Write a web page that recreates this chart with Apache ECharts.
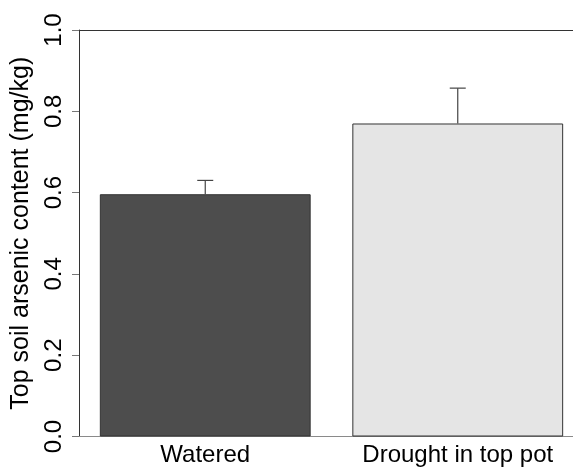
<!DOCTYPE html>
<html>
<head>
<meta charset="utf-8">
<script src="https://cdn.jsdelivr.net/npm/echarts@6/dist/echarts.min.js"></script>
<style>html,body{margin:0;padding:0;background:#fff;overflow:hidden}#c{width:584px;height:468px}</style>
</head>
<body>
<div id="c"></div>
<script>
var categories = ['Watered', 'Drought in top pot'];
var means = [0.596, 0.770];
var errUpper = [0.630, 0.857];
var barColors = ['#4d4d4d', '#e5e5e5'];
var yTicks = [0, 0.2, 0.4, 0.6, 0.8, 1.0];

var FONT = '"Liberation Sans", Arial, sans-serif';
var chart = echarts.init(document.getElementById('c'), null, {renderer: 'canvas'});
chart.setOption({
  animation: false,
  backgroundColor: '#fff',
  grid: {left: 79, top: 30, right: 0, bottom: 31.5, containLabel: false},
  xAxis: [{
    type: 'category',
    data: categories,
    axisLine: {show: true, lineStyle: {color: '#8a8a8a', width: 1}},
    axisTick: {show: false},
    axisLabel: {color: '#000', fontFamily: FONT, fontSize: 24, margin: 7, interval: 0, hideOverlap: false}
  }, {
    type: 'category',
    position: 'top',
    data: categories,
    axisLine: {show: true, lineStyle: {color: '#333', width: 1}},
    axisTick: {show: false},
    axisLabel: {show: false}
  }],
  yAxis: {
    type: 'value',
    min: yTicks[0],
    max: yTicks[yTicks.length - 1],
    interval: 0.2,
    splitLine: {show: false},
    axisLine: {show: true, lineStyle: {color: '#333', width: 1}},
    axisTick: {show: true, length: 7, lineStyle: {color: '#777'}},
    axisLabel: {
      rotate: 90, color: '#000', fontFamily: FONT, fontSize: 24, margin: 13,
      formatter: function (v) { return v.toFixed(1); }
    },
    name: 'Top soil arsenic content (mg/kg)',
    nameLocation: 'middle',
    nameGap: 37,
    nameRotate: 90,
    nameTextStyle: {color: '#000', fontFamily: FONT, fontSize: 25}
  },
  series: [{
    type: 'bar',
    barWidth: '83.5%',
    data: means.map(function (v, i) {
      return {value: v, itemStyle: {color: barColors[i], borderColor: '#333', borderWidth: 1}};
    })
  }, {
    type: 'custom',
    data: means.map(function (v, i) { return [i, v, errUpper[i]]; }),
    renderItem: function (params, api) {
      var lo = api.coord([api.value(0), api.value(1)]);
      var hi = api.coord([api.value(0), api.value(2)]);
      var hw = 8;
      return {
        type: 'group',
        children: [
          {type: 'line', shape: {x1: lo[0], y1: lo[1], x2: hi[0], y2: hi[1]}, style: {stroke: '#444', lineWidth: 1.2}},
          {type: 'line', shape: {x1: hi[0] - hw, y1: hi[1], x2: hi[0] + hw, y2: hi[1]}, style: {stroke: '#444', lineWidth: 1.2}}
        ]
      };
    },
    z: 5
  }]
});
</script>
</body>
</html>
